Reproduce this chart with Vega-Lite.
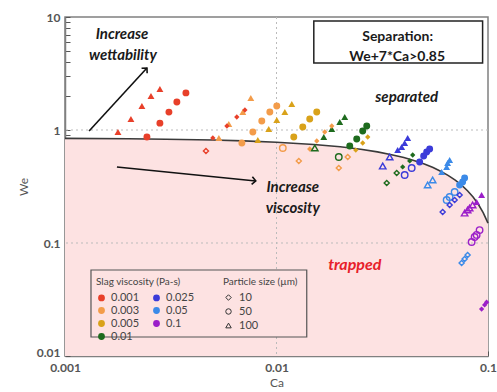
{
  "$schema": "https://vega.github.io/schema/vega-lite/v6.json",
  "width": 423,
  "height": 339,
  "autosize": {"type": "none"},
  "padding": {"left": 65, "top": 17, "right": 9, "bottom": 36},
  "background": "white",
  "config": {
    "font": "Lato",
    "view": {"stroke": "#808080", "strokeWidth": 1.5},
    "axis": {"domainColor": "#808080", "domainWidth": 1.5, "tickColor": "#555", "labelColor": "#555", "labelFont": "Lato", "labelFontSize": 12, "labelFontWeight": "bold", "titleFont": "Lato", "titleFontWeight": "normal", "titleFontSize": 12, "titleColor": "#555", "grid": false}
  },
  "datasets": {
    "curve": [
      {"Ca": 0.001, "We": 0.843}, {"Ca": 0.002, "We": 0.836}, {"Ca": 0.003, "We": 0.829}, {"Ca": 0.005, "We": 0.815},
      {"Ca": 0.007, "We": 0.801}, {"Ca": 0.01, "We": 0.78}, {"Ca": 0.015, "We": 0.745}, {"Ca": 0.02, "We": 0.71},
      {"Ca": 0.025, "We": 0.675}, {"Ca": 0.03, "We": 0.64}, {"Ca": 0.035, "We": 0.605}, {"Ca": 0.04, "We": 0.57},
      {"Ca": 0.045, "We": 0.535}, {"Ca": 0.05, "We": 0.5}, {"Ca": 0.055, "We": 0.465}, {"Ca": 0.06, "We": 0.43},
      {"Ca": 0.065, "We": 0.395}, {"Ca": 0.07, "We": 0.36}, {"Ca": 0.075, "We": 0.325}, {"Ca": 0.08, "We": 0.29},
      {"Ca": 0.085, "We": 0.255}, {"Ca": 0.09, "We": 0.22}, {"Ca": 0.095, "We": 0.185}, {"Ca": 0.1, "We": 0.15}
    ],
    "pts": [
      {"Ca": 0.00178, "We": 0.96, "v": "0.001", "s": "100", "f": 1},
      {"Ca": 0.00205, "We": 1.25, "v": "0.001", "s": "100", "f": 1},
      {"Ca": 0.00231, "We": 1.63, "v": "0.001", "s": "100", "f": 1},
      {"Ca": 0.00255, "We": 2.0, "v": "0.001", "s": "100", "f": 1},
      {"Ca": 0.00281, "We": 2.31, "v": "0.001", "s": "100", "f": 1},
      {"Ca": 0.00244, "We": 0.867, "v": "0.001", "s": "50", "f": 1},
      {"Ca": 0.00281, "We": 1.15, "v": "0.001", "s": "50", "f": 1},
      {"Ca": 0.0031, "We": 1.44, "v": "0.001", "s": "50", "f": 1},
      {"Ca": 0.00338, "We": 1.77, "v": "0.001", "s": "50", "f": 1},
      {"Ca": 0.00373, "We": 2.13, "v": "0.001", "s": "50", "f": 1},
      {"Ca": 0.005, "We": 0.85, "v": "0.001", "s": "10", "f": 1},
      {"Ca": 0.00583, "We": 1.085, "v": "0.001", "s": "10", "f": 1},
      {"Ca": 0.00649, "We": 1.303, "v": "0.001", "s": "10", "f": 1},
      {"Ca": 0.00709, "We": 1.503, "v": "0.001", "s": "10", "f": 1},
      {"Ca": 0.00464, "We": 0.652, "v": "0.001", "s": "10", "f": 0},
      {"Ca": 0.00534, "We": 0.85, "v": "0.003", "s": "100", "f": 1},
      {"Ca": 0.00595, "We": 1.13, "v": "0.003", "s": "100", "f": 1},
      {"Ca": 0.00693, "We": 1.443, "v": "0.003", "s": "100", "f": 1},
      {"Ca": 0.00756, "We": 1.919, "v": "0.003", "s": "100", "f": 1},
      {"Ca": 0.00686, "We": 0.767, "v": "0.003", "s": "50", "f": 1},
      {"Ca": 0.00773, "We": 0.96, "v": "0.003", "s": "50", "f": 1},
      {"Ca": 0.00852, "We": 1.2, "v": "0.003", "s": "50", "f": 1},
      {"Ca": 0.0093, "We": 1.443, "v": "0.003", "s": "50", "f": 1},
      {"Ca": 0.01003, "We": 1.631, "v": "0.003", "s": "50", "f": 1},
      {"Ca": 0.01071, "We": 0.693, "v": "0.003", "s": "50", "f": 0},
      {"Ca": 0.01436, "We": 0.679, "v": "0.003", "s": "10", "f": 1},
      {"Ca": 0.0155, "We": 0.799, "v": "0.003", "s": "10", "f": 1},
      {"Ca": 0.01691, "We": 0.96, "v": "0.003", "s": "10", "f": 1},
      {"Ca": 0.01825, "We": 1.085, "v": "0.003", "s": "10", "f": 1},
      {"Ca": 0.01275, "We": 0.532, "v": "0.003", "s": "10", "f": 0},
      {"Ca": 0.02172, "We": 0.577, "v": "0.003", "s": "10", "f": 0},
      {"Ca": 0.0197, "We": 0.461, "v": "0.003", "s": "10", "f": 0},
      {"Ca": 0.00816, "We": 0.816, "v": "0.005", "s": "100", "f": 1},
      {"Ca": 0.00919, "We": 1.02, "v": "0.005", "s": "100", "f": 1},
      {"Ca": 0.01003, "We": 1.226, "v": "0.005", "s": "100", "f": 1},
      {"Ca": 0.01095, "We": 1.443, "v": "0.005", "s": "100", "f": 1},
      {"Ca": 0.01181, "We": 1.698, "v": "0.005", "s": "100", "f": 1},
      {"Ca": 0.01207, "We": 0.867, "v": "0.005", "s": "50", "f": 1},
      {"Ca": 0.01331, "We": 1.063, "v": "0.005", "s": "50", "f": 1},
      {"Ca": 0.01436, "We": 1.251, "v": "0.005", "s": "50", "f": 1},
      {"Ca": 0.0155, "We": 1.443, "v": "0.005", "s": "50", "f": 1},
      {"Ca": 0.027, "We": 0.867, "v": "0.005", "s": "10", "f": 1},
      {"Ca": 0.02556, "We": 0.767, "v": "0.005", "s": "10", "f": 1},
      {"Ca": 0.0237, "We": 0.665, "v": "0.005", "s": "10", "f": 1},
      {"Ca": 0.01673, "We": 0.867, "v": "0.01", "s": "100", "f": 1},
      {"Ca": 0.01825, "We": 1.02, "v": "0.01", "s": "100", "f": 1},
      {"Ca": 0.01991, "We": 1.177, "v": "0.01", "s": "100", "f": 1},
      {"Ca": 0.02102, "We": 1.303, "v": "0.01", "s": "100", "f": 1},
      {"Ca": 0.01517, "We": 0.693, "v": "0.01", "s": "100", "f": 0},
      {"Ca": 0.0222, "We": 0.722, "v": "0.01", "s": "50", "f": 1},
      {"Ca": 0.02395, "We": 0.833, "v": "0.01", "s": "50", "f": 1},
      {"Ca": 0.02556, "We": 0.98, "v": "0.01", "s": "50", "f": 1},
      {"Ca": 0.02671, "We": 1.085, "v": "0.01", "s": "50", "f": 1},
      {"Ca": 0.0197, "We": 0.577, "v": "0.01", "s": "50", "f": 0},
      {"Ca": 0.04405, "We": 0.601, "v": "0.01", "s": "10", "f": 1},
      {"Ca": 0.04264, "We": 0.532, "v": "0.01", "s": "10", "f": 1},
      {"Ca": 0.0395, "We": 0.471, "v": "0.01", "s": "10", "f": 1},
      {"Ca": 0.03701, "We": 0.416, "v": "0.01", "s": "10", "f": 0},
      {"Ca": 0.0332, "We": 0.34, "v": "0.01", "s": "10", "f": 0},
      {"Ca": 0.03741, "We": 0.665, "v": "0.025", "s": "100", "f": 1},
      {"Ca": 0.03907, "We": 0.707, "v": "0.025", "s": "100", "f": 1},
      {"Ca": 0.04037, "We": 0.767, "v": "0.025", "s": "100", "f": 1},
      {"Ca": 0.04171, "We": 0.85, "v": "0.025", "s": "100", "f": 1},
      {"Ca": 0.03179, "We": 0.48, "v": "0.025", "s": "100", "f": 0},
      {"Ca": 0.03429, "We": 0.577, "v": "0.025", "s": "100", "f": 0},
      {"Ca": 0.04752, "We": 0.521, "v": "0.025", "s": "50", "f": 1},
      {"Ca": 0.04964, "We": 0.589, "v": "0.025", "s": "50", "f": 1},
      {"Ca": 0.05129, "We": 0.639, "v": "0.025", "s": "50", "f": 1},
      {"Ca": 0.05299, "We": 0.679, "v": "0.025", "s": "50", "f": 1},
      {"Ca": 0.04357, "We": 0.461, "v": "0.025", "s": "50", "f": 0},
      {"Ca": 0.04037, "We": 0.4, "v": "0.025", "s": "50", "f": 0},
      {"Ca": 0.06105, "We": 0.188, "v": "0.025", "s": "10", "f": 0},
      {"Ca": 0.06586, "We": 0.217, "v": "0.025", "s": "10", "f": 0},
      {"Ca": 0.06955, "We": 0.24, "v": "0.025", "s": "10", "f": 0},
      {"Ca": 0.07343, "We": 0.266, "v": "0.025", "s": "10", "f": 0},
      {"Ca": 0.06038, "We": 0.425, "v": "0.05", "s": "100", "f": 1},
      {"Ca": 0.06375, "We": 0.471, "v": "0.05", "s": "100", "f": 1},
      {"Ca": 0.06444, "We": 0.511, "v": "0.05", "s": "100", "f": 1},
      {"Ca": 0.06586, "We": 0.543, "v": "0.05", "s": "100", "f": 1},
      {"Ca": 0.05474, "We": 0.361, "v": "0.05", "s": "100", "f": 0},
      {"Ca": 0.05184, "We": 0.326, "v": "0.05", "s": "100", "f": 0},
      {"Ca": 0.07343, "We": 0.326, "v": "0.05", "s": "50", "f": 1},
      {"Ca": 0.07586, "We": 0.347, "v": "0.05", "s": "50", "f": 1},
      {"Ca": 0.07753, "We": 0.376, "v": "0.05", "s": "50", "f": 1},
      {"Ca": 0.06375, "We": 0.24, "v": "0.05", "s": "50", "f": 0},
      {"Ca": 0.06586, "We": 0.255, "v": "0.05", "s": "50", "f": 0},
      {"Ca": 0.06955, "We": 0.283, "v": "0.05", "s": "50", "f": 0},
      {"Ca": 0.07504, "We": 0.0665, "v": "0.05", "s": "10", "f": 0},
      {"Ca": 0.07753, "We": 0.0722, "v": "0.05", "s": "10", "f": 0},
      {"Ca": 0.08011, "We": 0.0783, "v": "0.05", "s": "10", "f": 0},
      {"Ca": 0.08836, "We": 0.231, "v": "0.1", "s": "100", "f": 1},
      {"Ca": 0.09328, "We": 0.266, "v": "0.1", "s": "100", "f": 1},
      {"Ca": 0.07753, "We": 0.184, "v": "0.1", "s": "100", "f": 0},
      {"Ca": 0.08011, "We": 0.196, "v": "0.1", "s": "100", "f": 0},
      {"Ca": 0.08187, "We": 0.204, "v": "0.1", "s": "100", "f": 0},
      {"Ca": 0.08459, "We": 0.217, "v": "0.1", "s": "100", "f": 0},
      {"Ca": 0.08368, "We": 0.102, "v": "0.1", "s": "50", "f": 0},
      {"Ca": 0.08645, "We": 0.113, "v": "0.1", "s": "50", "f": 0},
      {"Ca": 0.08836, "We": 0.118, "v": "0.1", "s": "50", "f": 0},
      {"Ca": 0.09125, "We": 0.13, "v": "0.1", "s": "50", "f": 0},
      {"Ca": 0.09328, "We": 0.026, "v": "0.1", "s": "10", "f": 1},
      {"Ca": 0.0964, "We": 0.0283, "v": "0.1", "s": "10", "f": 1},
      {"Ca": 0.09849, "We": 0.0299, "v": "0.1", "s": "10", "f": 1}
    ]
  },
  "layer": [
    {
      "data": {"name": "curve"},
      "mark": {"type": "area", "fill": "#fde2e2", "stroke": null},
      "encoding": {
        "x": {"field": "Ca", "type": "quantitative",
          "scale": {"type": "log", "domain": [0.001, 0.1], "nice": false},
          "axis": {"title": "Ca", "titlePadding": 4, "format": "~g",
            "values": [0.001, 0.002, 0.003, 0.004, 0.005, 0.006, 0.007, 0.008, 0.009, 0.01, 0.02, 0.03, 0.04, 0.05, 0.06, 0.07, 0.08, 0.09, 0.1],
            "labelExpr": "abs(log(datum.value)/LN10 - round(log(datum.value)/LN10)) < 0.01 ? datum.label : ''",
            "tickSize": -5, "labelPadding": 11, "labelFlush": false}},
        "y": {"field": "We", "type": "quantitative",
          "scale": {"type": "log", "domain": [0.01, 10], "nice": false},
          "axis": {"title": "We", "titlePadding": 6, "format": "~g",
            "values": [0.01, 0.02, 0.03, 0.04, 0.05, 0.06, 0.07, 0.08, 0.09, 0.1, 0.2, 0.3, 0.4, 0.5, 0.6, 0.7, 0.8, 0.9, 1, 2, 3, 4, 5, 6, 7, 8, 9, 10],
            "labelExpr": "abs(log(datum.value)/LN10 - round(log(datum.value)/LN10)) < 0.01 ? datum.label : ''",
            "labelOffset": {"condition": {"test": "datum.value < 0.011", "value": -4}, "value": 0},
            "tickSize": -5, "labelPadding": 10, "labelFlush": false}},
        "y2": {"datum": 0.01}
      }
    },
    {
      "data": {"values": [{"Ca": 0.01}]},
      "mark": {"type": "rule", "color": "#bbbbbb", "strokeDash": [2, 3], "strokeWidth": 1},
      "encoding": {"x": {"field": "Ca", "type": "quantitative"}}
    },
    {
      "data": {"values": [{"We": 0.1}, {"We": 1}]},
      "mark": {"type": "rule", "color": "#bbbbbb", "strokeDash": [2, 3], "strokeWidth": 1},
      "encoding": {"y": {"field": "We", "type": "quantitative"}}
    },
    {
      "data": {"name": "curve"},
      "mark": {"type": "line", "color": "#3a3a3a", "strokeWidth": 1.6},
      "encoding": {"x": {"field": "Ca", "type": "quantitative"}, "y": {"field": "We", "type": "quantitative"}}
    },
    {
      "data": {"values": [{"Ca": 0.001327, "Ca2": 0.0139, "We": 0.0577, "We2": 0.01473}]},
      "mark": {"type": "rect", "fill": "#fde2e2", "stroke": "#555", "strokeWidth": 1.2},
      "encoding": {"x": {"field": "Ca", "type": "quantitative"}, "x2": {"field": "Ca2"}, "y": {"field": "We", "type": "quantitative"}, "y2": {"field": "We2"}}
    },
    {
      "data": {"values": [{"Ca": 0.01501, "Ca2": 0.09429, "We": 9.22, "We2": 3.917}]},
      "mark": {"type": "rect", "fill": "white", "stroke": "#222", "strokeWidth": 1.5},
      "encoding": {"x": {"field": "Ca", "type": "quantitative"}, "x2": {"field": "Ca2"}, "y": {"field": "We", "type": "quantitative"}, "y2": {"field": "We2"}}
    },
    {
      "data": {"name": "pts"},
      "transform": [{"filter": "datum.f == 1 && datum.s != '10'"}],
      "mark": {"type": "point", "filled": true, "opacity": 1, "size": 48},
      "encoding": {
        "x": {"field": "Ca", "type": "quantitative"},
        "y": {"field": "We", "type": "quantitative"},
        "color": {"field": "v", "type": "nominal",
          "scale": {"domain": ["0.001", "0.003", "0.005", "0.01", "0.025", "0.05", "0.1"],
                    "range": ["#e8402a", "#f39c4a", "#d9a21a", "#1e6b1e", "#3b3bd9", "#3b8ae8", "#9b1fc9"]},
          "legend": {"orient": "none", "legendX": 31, "legendY": 260, "columns": 2, "title": "Slag viscosity (Pa-s)",
            "titleFontSize": 10, "titleFontWeight": "normal", "titleColor": "#444", "titlePadding": 5,
            "labelFontSize": 11, "labelColor": "#444", "symbolType": "circle", "symbolSize": 28, "rowPadding": 0,
            "columnPadding": 10, "labelOffset": 4, "padding": 0, "symbolOpacity": 1}},
        "shape": {"field": "s", "type": "nominal",
          "scale": {"domain": ["10", "50", "100"], "range": ["diamond", "circle", "triangle-up"]},
          "legend": {"orient": "none", "legendX": 158, "legendY": 260, "title": "Particle size (µm)",
            "titleFontSize": 10, "titleFontWeight": "normal", "titleColor": "#444", "titlePadding": 5,
            "labelFontSize": 11, "labelColor": "#444", "symbolSize": 30, "rowPadding": 2, "labelOffset": 5, "padding": 0,
            "symbolFillColor": "transparent", "symbolStrokeColor": "#333", "symbolStrokeWidth": 1,
            "symbolType": "circle"}}
      }
    },
    {
      "data": {"name": "pts"},
      "transform": [{"filter": "datum.f == 1 && datum.s == '10'"}],
      "mark": {"type": "point", "filled": true, "opacity": 1, "size": 28},
      "encoding": {
        "x": {"field": "Ca", "type": "quantitative"},
        "y": {"field": "We", "type": "quantitative"},
        "color": {"field": "v", "type": "nominal"},
        "shape": {"field": "s", "type": "nominal"}
      }
    },
    {
      "data": {"name": "pts"},
      "transform": [{"filter": "datum.f == 0 && datum.s != '10'"}],
      "mark": {"type": "point", "filled": false, "opacity": 1, "strokeWidth": 1.4, "size": 42},
      "encoding": {
        "x": {"field": "Ca", "type": "quantitative"},
        "y": {"field": "We", "type": "quantitative"},
        "color": {"field": "v", "type": "nominal"},
        "shape": {"field": "s", "type": "nominal"}
      }
    },
    {
      "data": {"name": "pts"},
      "transform": [{"filter": "datum.f == 0 && datum.s == '10'"}],
      "mark": {"type": "point", "filled": false, "opacity": 1, "strokeWidth": 1.4, "size": 26},
      "encoding": {
        "x": {"field": "Ca", "type": "quantitative"},
        "y": {"field": "We", "type": "quantitative"},
        "color": {"field": "v", "type": "nominal"},
        "shape": {"field": "s", "type": "nominal"}
      }
    },
    {
      "data": {"values": [{"Ca": 0.0013, "We": 0.98, "Ca2": 0.00244, "We2": 3.54}, {"Ca": 0.00176, "We": 0.471, "Ca2": 0.00798, "We2": 0.354}]},
      "mark": {"type": "rule", "color": "#111", "strokeWidth": 1.6},
      "encoding": {"x": {"field": "Ca", "type": "quantitative"}, "y": {"field": "We", "type": "quantitative"}, "x2": {"field": "Ca2"}, "y2": {"field": "We2"}}
    },
    {
      "data": {"values": [{"Ca": 0.00244, "We": 3.54}]},
      "mark": {"type": "point", "shape": "M -0.8 0.8 L 0 0 L 0.8 0.8", "filled": false, "color": "#111", "strokeWidth": 1.6, "size": 90, "angle": 42.6, "opacity": 1},
      "encoding": {"x": {"field": "Ca", "type": "quantitative"}, "y": {"field": "We", "type": "quantitative"}}
    },
    {
      "data": {"values": [{"Ca": 0.00798, "We": 0.354}]},
      "mark": {"type": "point", "shape": "M -0.8 0.8 L 0 0 L 0.8 0.8", "filled": false, "color": "#111", "strokeWidth": 1.6, "size": 90, "angle": 95.75, "opacity": 1},
      "encoding": {"x": {"field": "Ca", "type": "quantitative"}, "y": {"field": "We", "type": "quantitative"}}
    },
    {
      "data": {"values": [
        {"Ca": 0.00186, "We": 7.07, "t": "Increase"},
        {"Ca": 0.00188, "We": 4.61, "t": "wettability"},
        {"Ca": 0.01194, "We": 0.313, "t": "Increase"},
        {"Ca": 0.01194, "We": 0.204, "t": "viscosity"},
        {"Ca": 0.04127, "We": 1.959, "t": "separated"}
      ]},
      "mark": {"type": "text", "font": "Lato", "fontSize": 15, "fontWeight": "bold", "fontStyle": "italic", "color": "#1a1a1a", "align": "center", "baseline": "middle"},
      "encoding": {"x": {"field": "Ca", "type": "quantitative"}, "y": {"field": "We", "type": "quantitative"}, "text": {"field": "t"}}
    },
    {
      "data": {"values": [{"Ca": 0.02344, "We": 0.0639, "t": "trapped"}]},
      "mark": {"type": "text", "font": "Lato", "fontSize": 16, "fontWeight": "bold", "fontStyle": "italic", "color": "#e8202a", "align": "center", "baseline": "middle"},
      "encoding": {"x": {"field": "Ca", "type": "quantitative"}, "y": {"field": "We", "type": "quantitative"}, "text": {"field": "t"}}
    },
    {
      "data": {"values": [{"Ca": 0.0374, "We": 6.65, "t": "Separation:"}, {"Ca": 0.0372, "We": 4.43, "t": "We+7*Ca>0.85"}]},
      "mark": {"type": "text", "font": "Lato", "fontSize": 14, "fontWeight": "bold", "color": "#1a1a1a", "align": "center", "baseline": "middle"},
      "encoding": {"x": {"field": "Ca", "type": "quantitative"}, "y": {"field": "We", "type": "quantitative"}, "text": {"field": "t"}}
    }
  ]
}
